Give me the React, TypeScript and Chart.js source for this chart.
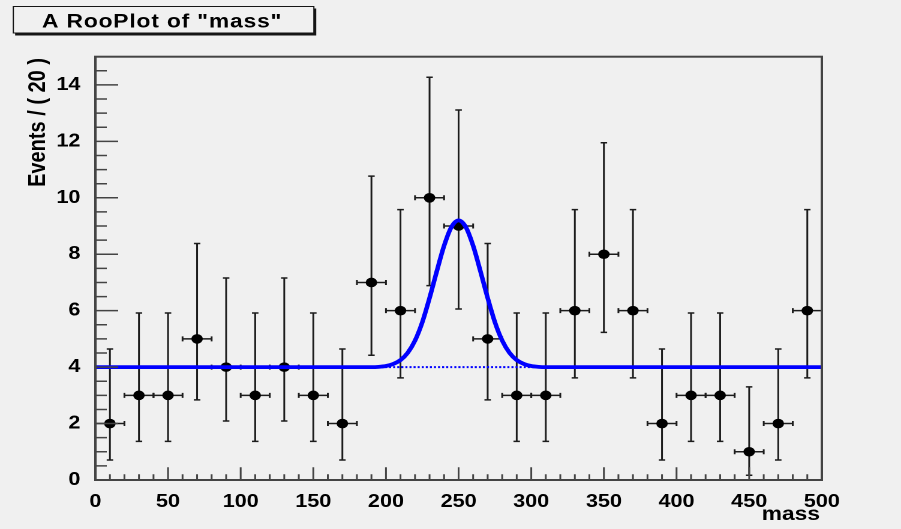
import React, { useEffect, useRef } from "react";
import { Chart, registerables } from "chart.js";

Chart.register(...registerables);

// ---- data ----
const binCenters = [10, 30, 50, 70, 90, 110, 130, 150, 170, 190, 210, 230, 250, 270, 290, 310, 330, 350, 370, 390, 410, 430, 450, 470, 490];
const counts = [2, 3, 3, 5, 4, 3, 4, 3, 2, 7, 6, 10, 9, 5, 3, 3, 6, 8, 6, 2, 3, 3, 1, 2, 6];
const errLow = [0.71, 1.37, 1.37, 2.84, 2.09, 1.37, 2.09, 1.37, 0.71, 4.42, 3.62, 6.89, 6.06, 2.84, 1.37, 1.37, 3.62, 5.23, 3.62, 0.71, 1.37, 1.37, 0.17, 0.71, 3.62];
const errHigh = [4.64, 5.92, 5.92, 8.38, 7.16, 5.92, 7.16, 5.92, 4.64, 10.77, 9.58, 14.27, 13.11, 8.38, 5.92, 5.92, 9.58, 11.95, 9.58, 4.64, 5.92, 5.92, 3.3, 4.64, 9.58];
const binHalfWidth = 10;

const curveX = [0, 190, 195, 200, 205, 210, 215, 220, 225, 230, 235, 240, 245, 250, 255, 260, 265, 270, 275, 280, 285, 290, 295, 300, 305, 310, 500];
const curveY = [4.0, 4.0, 4.01, 4.04, 4.11, 4.25, 4.51, 4.94, 5.59, 6.45, 7.4, 8.3, 8.96, 9.2, 8.96, 8.3, 7.4, 6.45, 5.59, 4.94, 4.51, 4.25, 4.11, 4.04, 4.01, 4.0, 4.0];

const bkgX = [0, 500];
const bkgY = [4, 4];

const xTicks = [0, 50, 100, 150, 200, 250, 300, 350, 400, 450, 500];
const yTicks = [0, 2, 4, 6, 8, 10, 12, 14];

const titleText = 'A RooPlot of "mass"';
const yTitle = "Events / ( 20 )";
const xTitle = "mass";

// ---- layout ----
const W = 751;
const H = 529;
const SX = 901 / W;
const FONT = '"Liberation Sans", Arial, Helvetica, sans-serif';
const BG = "#f0f0f0";
const AXIS = "#444444";

const rooPlugin = {
  id: "rooplot",
  beforeDraw(chart: any) {
    const { ctx, width, height } = chart;
    ctx.save();
    ctx.fillStyle = BG;
    ctx.fillRect(0, 0, width, height);
    ctx.restore();
  },
  beforeDatasetsDraw(chart: any) {
    const { ctx } = chart;
    const x = chart.scales.x;
    const y = chart.scales.y;
    ctx.save();
    ctx.strokeStyle = "#1c1c1c";
    ctx.lineWidth = 1.5;
    const capH = 2.5;
    const capW = 2.7;
    binCenters.forEach((c, i) => {
      const px = x.getPixelForValue(c);
      const py = y.getPixelForValue(counts[i]);
      const x0 = x.getPixelForValue(c - binHalfWidth);
      const x1 = x.getPixelForValue(c + binHalfWidth);
      const y0 = y.getPixelForValue(errLow[i]);
      const y1 = y.getPixelForValue(errHigh[i]);
      ctx.beginPath();
      ctx.moveTo(x0, py);
      ctx.lineTo(x1, py);
      ctx.moveTo(x0, py - capH);
      ctx.lineTo(x0, py + capH);
      ctx.moveTo(x1, py - capH);
      ctx.lineTo(x1, py + capH);
      ctx.moveTo(px, y0);
      ctx.lineTo(px, y1);
      ctx.moveTo(px - capW, y0);
      ctx.lineTo(px + capW, y0);
      ctx.moveTo(px - capW, y1);
      ctx.lineTo(px + capW, y1);
      ctx.stroke();
    });
    ctx.restore();
  },
  afterDatasetsDraw(chart: any) {
    const { ctx, chartArea: a } = chart;
    const x = chart.scales.x;
    const y = chart.scales.y;
    ctx.save();
    // frame
    ctx.strokeStyle = AXIS;
    ctx.lineWidth = 2;
    ctx.strokeRect(a.left, a.top, a.right - a.left, a.bottom - a.top);
    // ticks
    ctx.lineWidth = 1.5;
    ctx.beginPath();
    for (let i = 0; i <= 50; i++) {
      const v = i * 10;
      const px = x.getPixelForValue(v);
      const len = i % 5 === 0 ? 12.7 : 5.7;
      ctx.moveTo(px, a.bottom);
      ctx.lineTo(px, a.bottom - len);
    }
    for (let i = 0; i <= 29; i++) {
      const v = i * 0.5;
      const py = y.getPixelForValue(v);
      const len = i % 4 === 0 ? 19 : 9.5;
      ctx.moveTo(a.left, py);
      ctx.lineTo(a.left + len, py);
    }
    ctx.stroke();

    // title box
    const bx = 10.6, by = 6, bw = 251, bh = 27;
    ctx.fillStyle = "#151515";
    ctx.fillRect(bx + 2, by + 2.5, bw, bh);
    ctx.fillStyle = BG;
    ctx.fillRect(bx, by, bw, bh);
    ctx.strokeStyle = "#151515";
    ctx.lineWidth = 1;
    ctx.strokeRect(bx + 0.5, by + 0.5, bw - 0.5, bh - 0.5);
    ctx.fillStyle = "#000";
    ctx.font = `bold 19px ${FONT}`;
    ctx.textBaseline = "alphabetic";
    ctx.textAlign = "left";
    try { (ctx as any).letterSpacing = "0.7px"; } catch (e) {}
    ctx.fillText(titleText, 35, 27.5);
    try { (ctx as any).letterSpacing = "0px"; } catch (e) {}

    // axis titles
    ctx.font = `bold 19px ${FONT}`;
    ctx.textAlign = "right";
    ctx.fillText(xTitle, 683.5, 520);

    ctx.save();
    ctx.translate(37.5, 58);
    ctx.rotate(-Math.PI / 2);
    ctx.font = `bold 20px ${FONT}`;
    ctx.textAlign = "right";
    ctx.textBaseline = "alphabetic";
    ctx.fillText(yTitle, 0, 0);
    ctx.restore();

    ctx.restore();
  },
};

export default function App() {
  const ref = useRef<HTMLCanvasElement>(null);

  useEffect(() => {
    const canvas = ref.current;
    if (!canvas) return;
    const tickFont = { family: FONT, size: 18, weight: "bold" as const };
    const chart = new Chart(canvas, {
      type: "scatter",
      data: {
        datasets: [
          {
            label: "model",
            data: curveX.map((v, i) => ({ x: v, y: curveY[i] })),
            showLine: true,
            borderColor: "#0000ff",
            borderWidth: 3.8,
            pointRadius: 0,
            cubicInterpolationMode: "monotone",
            borderJoinStyle: "round",
          } as any,
          {
            label: "background",
            data: bkgX.map((v, i) => ({ x: v, y: bkgY[i] })),
            showLine: true,
            borderColor: "#0000ff",
            borderWidth: 2,
            borderDash: [1.7, 1.7],
            pointRadius: 0,
          } as any,
          {
            label: "data",
            data: binCenters.map((v, i) => ({ x: v, y: counts[i] })),
            showLine: false,
            pointRadius: 4.8,
            pointBackgroundColor: "#000",
            pointBorderWidth: 0,
            pointBorderColor: "#000",
          } as any,
        ],
      },
      options: {
        animation: false,
        responsive: false,
        devicePixelRatio: 2,
        events: [],
        layout: { padding: { left: 0, top: 56.7, right: W - 685, bottom: 0 } },
        plugins: { legend: { display: false }, tooltip: { enabled: false }, title: { display: false } },
        scales: {
          x: {
            type: "linear",
            min: 0,
            max: 500,
            grid: { display: false },
            border: { display: false },
            ticks: { font: tickFont, color: "#000", padding: 3, maxRotation: 0, autoSkip: false, includeBounds: false },
            afterBuildTicks: (s: any) => { s.ticks = xTicks.map((v) => ({ value: v })); },
            afterFit: (s: any) => { s.height = H - 480; },
          },
          y: {
            type: "linear",
            min: 0,
            max: 15,
            grid: { display: false },
            border: { display: false },
            ticks: { font: tickFont, color: "#000", padding: 4.5, autoSkip: false, includeBounds: false },
            afterBuildTicks: (s: any) => { s.ticks = yTicks.map((v) => ({ value: v })); },
            afterFit: (s: any) => { s.width = 79.5; },
          },
        },
      } as any,
      plugins: [rooPlugin],
    });
    return () => chart.destroy();
  }, []);

  return (
    <div style={{ position: "fixed", left: 0, top: 0, width: 901, height: 529, background: BG, overflow: "hidden" }}>
      <canvas
        ref={ref}
        width={W}
        height={H}
        style={{ display: "block", width: `${W}px`, height: `${H}px`, transform: `scaleX(${SX})`, transformOrigin: "0 0" }}
      />
    </div>
  );
}
